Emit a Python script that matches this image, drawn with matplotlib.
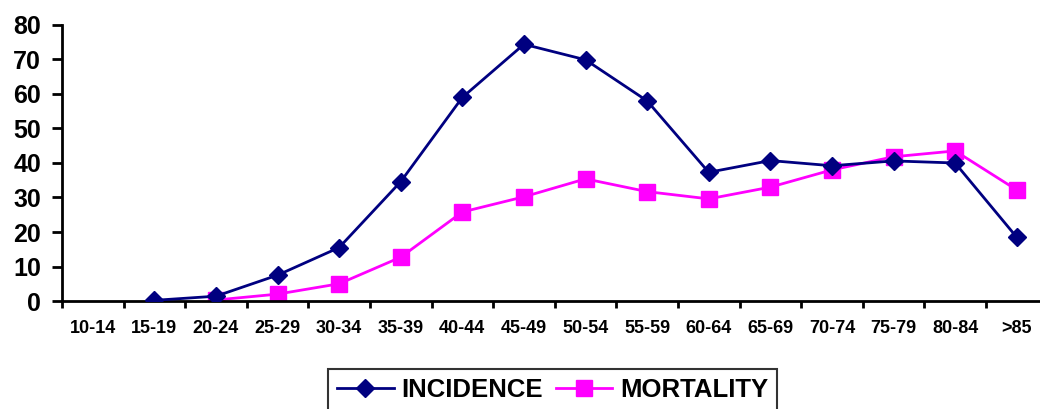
import matplotlib
matplotlib.use("Agg")
import matplotlib.pyplot as plt
import numpy as np

# ========== data ==========
age_groups = ["10-14", "15-19", "20-24", "25-29", "30-34", "35-39", "40-44", "45-49",
              "50-54", "55-59", "60-64", "65-69", "70-74", "75-79", "80-84", ">85"]
incidence = [None, 0.2, 1.4, 7.5, 15.5, 34.6, 59.0, 74.4,
             69.9, 58.0, 37.3, 40.7, 39.2, 40.6, 40.0, 18.5]
mortality = [None, None, 0.3, 2.0, 5.0, 12.7, 25.8, 30.2,
             35.4, 31.7, 29.6, 33.0, 38.0, 41.8, 43.5, 32.2]

plt.rcParams['font.family'] = ['Liberation Sans', 'DejaVu Sans']
plt.rcParams['font.weight'] = 'bold'

fig = plt.figure(figsize=(10.4, 4.09), dpi=100)
# plot area runs slightly past the right edge, as in the reference
ax = fig.add_axes([0.0596, 0.264, 0.9476, 0.675])

x = np.arange(len(age_groups))
inc = np.array([np.nan if v is None else v for v in incidence], dtype=float)
mor = np.array([np.nan if v is None else v for v in mortality], dtype=float)

ax.plot(x, inc, color="#000080", lw=2, marker="D", ms=9, label="INCIDENCE", zorder=3)
ax.plot(x, mor, color="#FF00FF", lw=2, marker="s", ms=11, label="MORTALITY", zorder=2)

ax.set_xlim(-0.5, len(age_groups) - 0.5)
ax.set_ylim(0, 80)
ax.set_yticks(range(0, 81, 10))
ax.tick_params(axis='y', labelsize=18, width=2, length=7, direction='out', pad=8)

# boundary ticks (major), labels centred on categories (minor)
ax.set_xticks(np.arange(-0.5, len(age_groups), 1.0))
ax.set_xticklabels([])
ax.set_xticks(x, minor=True)
ax.set_xticklabels(age_groups, minor=True, fontsize=13)
ax.tick_params(axis='x', which='major', width=2, length=5, direction='out')
ax.tick_params(axis='x', which='minor', length=0, pad=14)

for s in ["top", "right"]:
    ax.spines[s].set_visible(False)
for s in ["left", "bottom"]:
    ax.spines[s].set_linewidth(2)

leg = fig.legend(loc="upper left", bbox_to_anchor=(328 / 1040, 1 - 369 / 409),
                 borderaxespad=0, ncol=2, fontsize=18.5, frameon=True, fancybox=False,
                 handlelength=2.2, columnspacing=0.5, handletextpad=0.3,
                 borderpad=0.35)
leg.get_frame().set_edgecolor("black")
leg.get_frame().set_linewidth(1.5)

fig.savefig("out.png", dpi=100)
